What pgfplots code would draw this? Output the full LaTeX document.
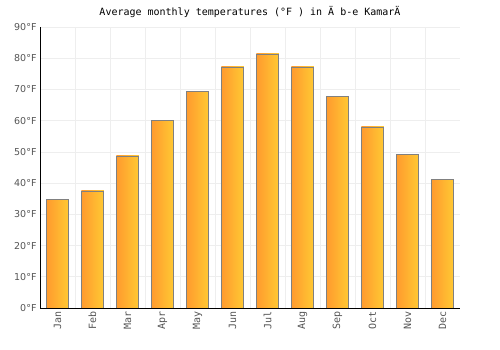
\documentclass[border=0pt]{standalone}
\usepackage{pgfplots}
\pgfplotsset{compat=1.18}
\usepackage{fontspec}
\setmainfont{DejaVu Sans}
\newfontfamily\monofont{DejaVu Sans Mono}
\definecolor{gridc}{HTML}{EEEEEE}
\definecolor{barl}{HTML}{FF9A2E}
\definecolor{barr}{HTML}{FFC933}
\definecolor{tickc}{HTML}{555555}
\tikzset{mybar/.style={draw=gray, line width=0.6pt, left color=barl, right color=barr}}
\begin{document}
\begin{tikzpicture}
\useasboundingbox (-40bp,-42bp) rectangle (460bp,308bp);
\begin{axis}[
  at={(0,0)}, anchor=south west,
  scale only axis, width=420bp, height=281bp,
  ymin=0, ymax=90, ytick={0,10,...,90},
  xmin=-0.5, xmax=11.5,
  xtick={0,...,11},
  minor xtick={0.5,1.5,...,10.5},
  xticklabels={Jan,Feb,Mar,Apr,May,Jun,Jul,Aug,Sep,Oct,Nov,Dec},
  x tick label style={rotate=90, anchor=east, font=\monofont\fontsize{10bp}{12bp}\selectfont, text=tickc},
  y tick label style={font=\fontsize{9.5bp}{11bp}\selectfont, text=tickc},
  yticklabel={\pgfmathprintnumber{\tick}°F},
  /pgf/number format/assume math mode=true,
  axis x line*=bottom, axis y line*=left,
  axis line style={black, line width=0.8pt},
  ymajorgrids, xminorgrids,
  major grid style={gridc, line width=0.6pt},
  minor grid style={gridc, line width=0.6pt},
  major tick length=0pt, minor tick length=0pt,
  tick style={draw=none},
  ybar, bar width=22.5bp, bar shift=0pt,
  enlarge x limits=false,
]
\addplot[mybar] coordinates {(0,34.9)};
\addplot[mybar] coordinates {(1,37.5)};
\addplot[mybar] coordinates {(2,48.7)};
\addplot[mybar] coordinates {(3,60.2)};
\addplot[mybar] coordinates {(4,69.5)};
\addplot[mybar] coordinates {(5,77.2)};
\addplot[mybar] coordinates {(6,81.4)};
\addplot[mybar] coordinates {(7,77.2)};
\addplot[mybar] coordinates {(8,67.9)};
\addplot[mybar] coordinates {(9,58.0)};
\addplot[mybar] coordinates {(10,49.3)};
\addplot[mybar] coordinates {(11,41.3)};
\end{axis}
\node[font=\monofont\fontsize{10bp}{12bp}\selectfont] at (210bp,296bp) {Average monthly temperatures (°F ) in Ä b-e KamarÄ};
\end{tikzpicture}
\end{document}
